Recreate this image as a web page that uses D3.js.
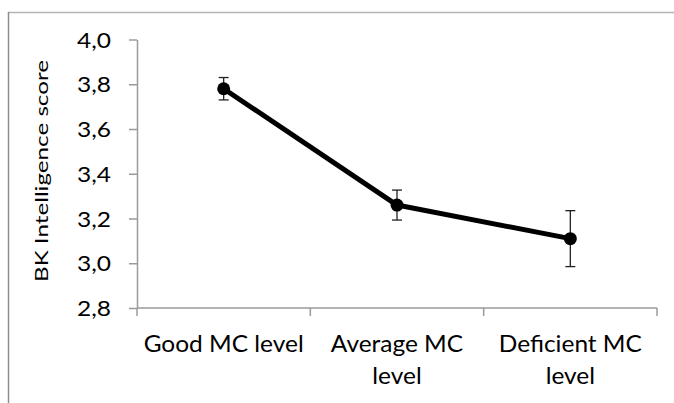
<!DOCTYPE html>
<meta charset="utf-8">
<html>
<head>
<title>BK Intelligence score by MC level</title>
<script src="https://d3js.org/d3.v7.min.js"></script>
</head>
<style>
  body {margin: 0; background: #fff;}
  .axis--y text {font: 21px Lato, "Open Sans", sans-serif; fill: #000;}
  .axis--x text {font: 23px Lato, "Open Sans", sans-serif; fill: #000;}
  .axis path, .axis line {stroke: #9a9a9a; stroke-width: 1.5px;}
  .label {font: 18px Lato, "Open Sans", sans-serif; fill: #000;}
  .line {fill: none; stroke: #000; stroke-width: 5px; stroke-linejoin: round;}
  .err {stroke: #222; stroke-width: 1.3px;}
</style>
<body>
<svg id="chart" width="674" height="403"></svg>
<script>
// data
var categories = ["Good MC level", "Average MC level", "Deficient MC level"];
var means = [3.78, 3.26, 3.11];
var errors = [0.05, 0.067, 0.125];
var yTicks = [2.8, 3.0, 3.2, 3.4, 3.6, 3.8, 4.0];

var svg = d3.select("#chart"),
    margin = {top: 39.5, right: 17, bottom: 95, left: 137},
    width = +svg.attr("width") - margin.left - margin.right,
    height = +svg.attr("height") - margin.top - margin.bottom;

// the reference text is set wider than the font: stretch each string
function stretch(sel, k) {
  sel.each(function() {
    var len = this.getComputedTextLength();
    d3.select(this).attr("textLength", len * k).attr("lengthAdjust", "spacingAndGlyphs");
  });
}

// outer frame (runs off the right and bottom edges)
svg.append("line")
    .attr("x1", 8).attr("x2", 674).attr("y1", 12.5).attr("y2", 12.5)
    .attr("stroke", "#b4b4b4").attr("stroke-width", 1.5);
svg.append("line")
    .attr("x1", 8.5).attr("x2", 8.5).attr("y1", 12).attr("y2", 403)
    .attr("stroke", "#8e8e8e").attr("stroke-width", 1.5);

var g = svg.append("g")
    .attr("transform", "translate(" + margin.left + "," + margin.top + ")");

var x = d3.scaleBand().domain(categories).range([0, width]),
    y = d3.scaleLinear().domain([2.8, 4.0]).range([height, 0]);

var fmt = function(d) { return d3.format(".1f")(d).replace(".", ","); };

var yAxis = d3.axisLeft(y)
    .tickValues(yTicks)
    .tickFormat(fmt)
    .tickSize(8)
    .tickSizeOuter(0)
    .tickPadding(18);

var yg = g.append("g")
    .attr("class", "axis axis--y")
    .call(yAxis);
yg.selectAll("text").attr("dy", "0.36em");
var kTick = 34 / yg.select(".tick:last-of-type text").node().getComputedTextLength();
stretch(yg.selectAll("text"), kTick);

// x axis: baseline with ticks at the category boundaries
var xAxis = g.append("g")
    .attr("class", "axis axis--x")
    .attr("transform", "translate(0," + height + ")");

xAxis.append("line")
    .attr("x1", 0).attr("x2", width);

var bounds = categories.map(function(c) { return x(c); }).concat([x(categories[categories.length - 1]) + x.bandwidth()]);
xAxis.selectAll(".tick")
    .data(bounds)
    .enter().append("line")
    .attr("class", "tick")
    .attr("x1", function(d) { return d; })
    .attr("x2", function(d) { return d; })
    .attr("y1", 0).attr("y2", 8);

var labels = xAxis.selectAll(".cat")
    .data(categories)
    .enter().append("text")
    .attr("class", "cat")
    .attr("text-anchor", "middle")
    .attr("x", function(d) { return x(d) + x.bandwidth() / 2; })
    .attr("y", 43.7);

// width factor from the first label, which sits on one line
var probe = labels.filter(function(d, i) { return i === 0; }).text(categories[0]);
var kCat = 160 / probe.node().getComputedTextLength();
probe.text(null);

labels.each(function(d) {
  var text = d3.select(this), words = d.split(" "), line = [], lines = [];
  var tspan = text.append("tspan");
  words.forEach(function(w) {
    line.push(w);
    tspan.text(line.join(" "));
    if (tspan.node().getComputedTextLength() * kCat > x.bandwidth() - 6 && line.length > 1) {
      line.pop();
      lines.push(line.join(" "));
      line = [w];
    }
  });
  lines.push(line.join(" "));
  tspan.remove();
  lines.forEach(function(l, i) {
    text.append("tspan")
        .attr("x", text.attr("x"))
        .attr("dy", i === 0 ? 0 : 32)
        .text(l);
  });
});
stretch(xAxis.selectAll("tspan"), kCat);

// y axis title
var title = svg.append("text")
    .attr("class", "label")
    .attr("text-anchor", "middle")
    .attr("transform", "translate(48,171) rotate(-90)")
    .text("BK Intelligence score");
stretch(title, 222 / title.node().getComputedTextLength());

// error bars
var eb = g.selectAll(".eb")
    .data(categories)
    .enter().append("g")
    .attr("class", "eb");

eb.append("line")
    .attr("class", "err")
    .attr("x1", function(d) { return x(d) + x.bandwidth() / 2; })
    .attr("x2", function(d) { return x(d) + x.bandwidth() / 2; })
    .attr("y1", function(d, i) { return y(means[i] + errors[i]); })
    .attr("y2", function(d, i) { return y(means[i] - errors[i]); });

[1, -1].forEach(function(s) {
  eb.append("line")
      .attr("class", "err")
      .attr("x1", function(d) { return x(d) + x.bandwidth() / 2 - 5; })
      .attr("x2", function(d) { return x(d) + x.bandwidth() / 2 + 5; })
      .attr("y1", function(d, i) { return y(means[i] + s * errors[i]); })
      .attr("y2", function(d, i) { return y(means[i] + s * errors[i]); });
});

var line = d3.line()
    .x(function(d, i) { return x(categories[i]) + x.bandwidth() / 2; })
    .y(function(d) { return y(d); });

g.append("path")
    .datum(means)
    .attr("class", "line")
    .attr("d", line);

g.selectAll(".dot")
    .data(means)
    .enter().append("circle")
    .attr("class", "dot")
    .attr("cx", function(d, i) { return x(categories[i]) + x.bandwidth() / 2; })
    .attr("cy", function(d) { return y(d); })
    .attr("r", 6.5)
    .attr("fill", "#000");
</script>
</body>
</html>
